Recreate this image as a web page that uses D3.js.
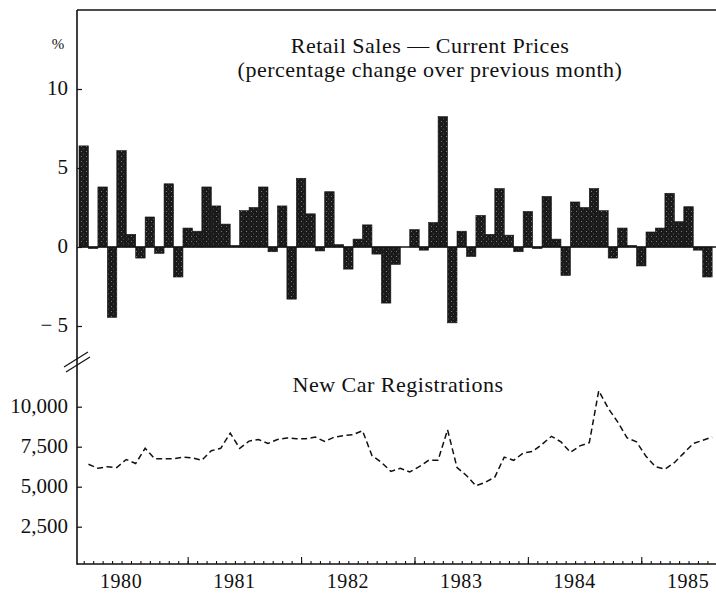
<!DOCTYPE html>
<html>
<head>
<meta charset="utf-8">
<script src="https://cdn.jsdelivr.net/npm/d3@7/dist/d3.min.js"></script>
<style>
  html, body { margin: 0; padding: 0; background: #fff; }
  svg { display: block; }
  text { font-family: "Liberation Serif", "DejaVu Serif", serif; fill: #111; }
</style>
</head>
<body>
<svg id="chart" width="716" height="595"></svg>
<script>
// ---- Data ----
// Months: Aug 1979 .. Feb 1985 (67 months)
const startMonth = new Date(1979, 7, 1);
const endMonth = new Date(1985, 2, 1);
const months = d3.timeMonth.range(startMonth, endMonth);

// Retail sales, % change over previous month (one per month)
const retailChange = [
  6.4, -0.1, 3.8, -4.45, 6.1, 0.8, -0.7, 1.9, -0.4, 4.0, -1.9, 1.2,
  1.0, 3.8, 2.6, 1.45, 0.1, 2.3, 2.5, 3.8, -0.3, 2.6, -3.3, 4.35,
  2.1, -0.25, 3.5, 0.15, -1.4, 0.5, 1.4, -0.45, -3.55, -1.1, 0.0, 1.1,
  -0.2, 1.55, 8.25, -4.8, 1.0, -0.6, 2.0, 0.8, 3.7, 0.75, -0.3, 2.25,
  -0.1, 3.2, 0.5, -1.8, 2.85, 2.5, 3.7, 2.3, -0.7, 1.2, 0.1, -1.2,
  0.95, 1.2, 3.4, 1.6, 2.55, -0.2, -1.9
];

// New car registrations (value at end of each month)
const carRegistrations = [
  6400, 6150, 6250, 6200, 6700, 6450, 7400, 6750, 6750, 6750, 6850, 6800,
  6650, 7250, 7400, 8350, 7400, 7850, 7950, 7700, 7950, 8050, 8000, 8000,
  8100, 7830, 8100, 8190, 8250, 8500, 6950, 6520, 5960, 6150, 5920, 6250,
  6650, 6650, 8560, 6200, 5700, 5060, 5270, 5600, 6850, 6650, 7100, 7200,
  7650, 8150, 7800, 7150, 7550, 7750, 11000, 9900, 9050, 8050, 7800, 6900,
  6250, 6100, 6500, 7100, 7700, 7900, 8100
];

const retailTicks = [-5, 0, 5, 10];
const carTicks = [2500, 5000, 7500, 10000];
const yearLabels = ["1980", "1981", "1982", "1983", "1984", "1985"];

const retailTitle = ["Retail Sales \u2014 Current Prices", "(percentage change over previous month)"];
const carTitle = "New Car Registrations";

// ---- Layout ----
const svg = d3.select("#chart");
const axisX = 77, topY = 10, bottomY = 564, rightX = 716;

const x = d3.scaleLinear().domain([0, months.length]).range([79, 712.15]);
const yR = d3.scaleLinear().domain([-5, 10]).range([326, 89]);
const yC = d3.scaleLinear().domain([0, 10000]).range([566.7, 406.7]);

// stipple pattern
const defs = svg.append("defs");
const pat = defs.append("pattern").attr("id", "stip").attr("patternUnits", "userSpaceOnUse")
  .attr("width", 5).attr("height", 5);
pat.append("rect").attr("width", 5).attr("height", 5).attr("fill", "#1a1a1a");
pat.append("rect").attr("x", 1).attr("y", 1).attr("width", 1).attr("height", 1).attr("fill", "#7a7a7a");
pat.append("rect").attr("x", 3).attr("y", 3.5).attr("width", 1).attr("height", 1).attr("fill", "#5a5a5a");

// frame lines
svg.append("line").attr("x1", axisX).attr("x2", rightX).attr("y1", topY).attr("y2", topY)
  .attr("stroke", "#111").attr("stroke-width", 1.6);
svg.append("line").attr("x1", axisX).attr("x2", axisX).attr("y1", topY).attr("y2", bottomY + 0.8)
  .attr("stroke", "#111").attr("stroke-width", 1.6);
svg.append("line").attr("x1", axisX).attr("x2", rightX).attr("y1", bottomY).attr("y2", bottomY)
  .attr("stroke", "#111").attr("stroke-width", 1.6);

// axis break marks
svg.append("line").attr("x1", 64).attr("y1", 367).attr("x2", 88).attr("y2", 352)
  .attr("stroke", "#111").attr("stroke-width", 1.2);
svg.append("line").attr("x1", 66).attr("y1", 372).attr("x2", 90).attr("y2", 357)
  .attr("stroke", "#111").attr("stroke-width", 1.2);

// ---- Retail bars ----
svg.append("g").selectAll("rect").data(retailChange).join("rect")
  .attr("x", (d, i) => x(i))
  .attr("width", (d, i) => x(i + 1) - x(i))
  .attr("y", d => Math.min(yR(d), yR(0)))
  .attr("height", d => Math.abs(yR(d) - yR(0)))
  .attr("fill", "url(#stip)")
  .attr("stroke", "#151515").attr("stroke-width", 0.6);

// zero line
svg.append("line").attr("x1", x(0)).attr("x2", rightX).attr("y1", yR(0)).attr("y2", yR(0))
  .attr("stroke", "#151515").attr("stroke-width", 1.6);

// ---- Car registrations line ----
const line = d3.line().x((d, i) => x(i + 1)).y(d => yC(d));
svg.append("path").datum(carRegistrations)
  .attr("d", line).attr("fill", "none").attr("stroke", "#111")
  .attr("stroke-width", 1.5).attr("stroke-dasharray", "6,3.5");

// ---- Y axes ----
const fmtR = d => d < 0 ? "\u2212 " + Math.abs(d) : String(d);
const gR = svg.append("g").attr("transform", `translate(${axisX},0)`)
  .call(d3.axisLeft(yR).tickValues(retailTicks).tickFormat(fmtR).tickSizeInner(-5).tickSizeOuter(0).tickPadding(9));
const gC = svg.append("g").attr("transform", `translate(${axisX},0)`)
  .call(d3.axisLeft(yC).tickValues(carTicks).tickFormat(d3.format(",")).tickSizeInner(-5).tickSizeOuter(0).tickPadding(9));
[gR, gC].forEach(g => {
  g.select(".domain").remove();
  g.selectAll(".tick line").attr("stroke", "#111").attr("stroke-width", 1.2);
  g.selectAll(".tick text").attr("font-size", 21).attr("font-family", "Liberation Serif").attr("fill", "#111").attr("dy", "0.28em");
});

svg.append("text").attr("x", 58).attr("y", 49).attr("text-anchor", "middle")
  .attr("font-size", 15).text("%");

// ---- X axis ----
const minorIdx = months.map((m, i) => i + 0.5);
const majorIdx = months.map((m, i) => i).filter(i => months[i].getMonth() === 6).map(i => i + 0.5);
const labelIdx = yearLabels.map(y => months.findIndex(m => m.getFullYear() === +y && m.getMonth() === 0))
  .map((i, k) => (i < 0 ? months.length : i) - 0.6);

const gMinor = svg.append("g").attr("transform", `translate(0,${bottomY})`)
  .call(d3.axisBottom(x).tickValues(minorIdx).tickFormat("").tickSizeInner(-3).tickSizeOuter(0));
const gMajor = svg.append("g").attr("transform", `translate(0,${bottomY})`)
  .call(d3.axisBottom(x).tickValues(majorIdx).tickFormat("").tickSizeInner(-7).tickSizeOuter(0));
const gLab = svg.append("g").attr("transform", `translate(0,${bottomY})`)
  .call(d3.axisBottom(x).tickValues(labelIdx).tickFormat((d, k) => yearLabels[k]).tickSize(0).tickPadding(10));
[gMinor, gMajor, gLab].forEach(g => {
  g.select(".domain").remove();
  g.selectAll(".tick line").attr("stroke", "#111").attr("stroke-width", 1.1);
});
gLab.selectAll(".tick text").attr("font-size", 20).attr("font-family", "Liberation Serif").attr("fill", "#111")
  .attr("letter-spacing", "0.6px");

// ---- Titles ----
svg.append("text").attr("x", 430).attr("y", 53).attr("text-anchor", "middle")
  .attr("font-size", 22).attr("letter-spacing", "0.5px").text(retailTitle[0]);
svg.append("text").attr("x", 430).attr("y", 77).attr("text-anchor", "middle")
  .attr("font-size", 22).attr("letter-spacing", "0.5px").text(retailTitle[1]);
svg.append("text").attr("x", 398).attr("y", 392).attr("text-anchor", "middle")
  .attr("font-size", 22).attr("letter-spacing", "0.5px").text(carTitle);
</script>
</body>
</html>
